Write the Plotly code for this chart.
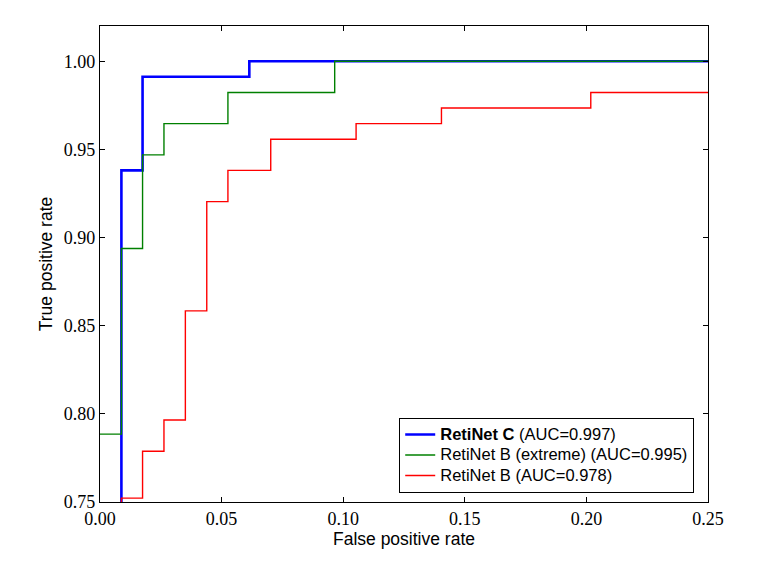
"""
ROC curves (zoomed top-left corner) for the RetiNet models, classic matplotlib look.
"""

import plotly.graph_objects as go

# step corners (fpr, tpr)
retinet_c_fpr = [0.0, 0.0088, 0.0175, 0.0614, 1.0]
retinet_c_tpr = [0.0, 0.9381, 0.9912, 1.0, 1.0]

retinet_b_ext_fpr = [0.0, 0.0088, 0.0175, 0.0263, 0.0526, 0.0965, 1.0]
retinet_b_ext_tpr = [0.7885, 0.8938, 0.9469, 0.9646, 0.9823, 1.0, 1.0]

retinet_b_fpr = [0.0, 0.0088, 0.0175, 0.0263, 0.0351, 0.0439, 0.0526,
                 0.0702, 0.1053, 0.1404, 0.2018, 1.0]
retinet_b_tpr = [0.0, 0.7522, 0.7788, 0.7965, 0.8584, 0.9204, 0.9381,
                 0.9558, 0.9646, 0.9735, 0.9823, 1.0]

series = [
    ("<b>RetiNet C</b> (AUC=0.997)", retinet_c_fpr, retinet_c_tpr, "#0000ff", 2.6),
    ("RetiNet B (extreme) (AUC=0.995)", retinet_b_ext_fpr, retinet_b_ext_tpr, "#008000", 1.4),
    ("RetiNet B (AUC=0.978)", retinet_b_fpr, retinet_b_tpr, "#ff0000", 1.4),
]

tick_vals_x = [0.0, 0.05, 0.10, 0.15, 0.20, 0.25]
tick_vals_y = [0.75, 0.80, 0.85, 0.90, 0.95, 1.00]

SERIF = "Liberation Serif, Times New Roman, serif"
SANS = "Liberation Sans, Arial, sans-serif"

fig = go.Figure()
for name, fpr, tpr, color, width in series:
    # legend rows are spaced from the legend font size; draw the text a bit larger
    fig.add_trace(go.Scatter(
        x=fpr, y=tpr, mode="lines",
        name=f'<span style="font-size:16.5px">{name}</span>',
        line=dict(color=color, width=width, shape="hv"),
    ))

axis_common = dict(
    showgrid=False, zeroline=False,
    showline=True, linecolor="black", linewidth=1.2, mirror="ticks",
    layer="above traces",
    ticks="inside", ticklen=5, tickwidth=1, tickcolor="black",
    tickformat=".2f",
    tickfont=dict(family=SERIF, size=18, color="black"),
)

fig.update_xaxes(
    range=[0, 0.25], tickvals=tick_vals_x,
    title=dict(text="False positive rate", standoff=5,
               font=dict(family=SANS, size=17.5, color="black")),
    **axis_common,
)
fig.update_yaxes(
    range=[0.75, 1.02], tickvals=tick_vals_y,
    title=dict(text="True positive rate", standoff=6,
               font=dict(family=SANS, size=17.5, color="black")),
    **axis_common,
)

# the page adds an 8px body margin, so the figure is a bit smaller than the window
fig.update_layout(
    width=753, height=563,
    margin=dict(l=92, r=53, t=18, b=69),
    plot_bgcolor="white", paper_bgcolor="white",
    legend=dict(
        x=0.977, y=0.019, xanchor="right", yanchor="bottom",
        bgcolor="white", bordercolor="black", borderwidth=1.2,
        font=dict(family=SANS, size=13.5, color="black"),
        tracegroupgap=0,
    ),
)

fig.write_html("out.html")
